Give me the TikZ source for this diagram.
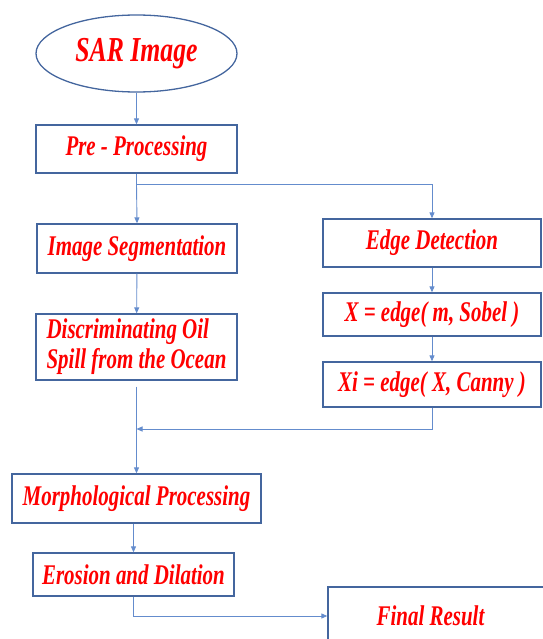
\documentclass[tikz,border=0pt]{standalone}
\usepackage{fontspec}
\newfontfamily\flowfont[FakeStretch=0.735]{Liberation Serif}
\usetikzlibrary{shapes.geometric,arrows.meta}
\definecolor{boxblue}{RGB}{68,102,158}
\definecolor{linkblue}{RGB}{100,140,205}
\definecolor{txtred}{RGB}{255,0,0}
\begin{document}
\begin{tikzpicture}[x=1pt,y=-1pt,
  boxstyle/.style={draw=boxblue,line width=1.3pt,rectangle,inner sep=0pt,text=txtred,
    font={\flowfont\bfseries\itshape\fontsize{28.5}{30}\selectfont}},
  link/.style={draw=linkblue,line width=0.9pt},
  arr/.style={link,-{Triangle[length=6pt,width=5pt]}}]
\useasboundingbox (0,0) rectangle (542,639);
\node[draw=boxblue,line width=1.3pt,ellipse,inner sep=0pt,minimum width=201pt,minimum height=77pt,
  text=txtred,font={\flowfont\bfseries\itshape\fontsize{35}{40}\selectfont}] (sar) at (136.5,53.5) {SAR Image};
\node[boxstyle,minimum width=201pt,minimum height=48pt] (pre) at (136.5,149) {Pre - Processing};
\node[boxstyle,minimum width=200pt,minimum height=49pt] (seg) at (137,248.5) {Image Segmentation};
\node[boxstyle,minimum width=218pt,minimum height=48pt] (edge) at (432,243) {\raisebox{-4pt}{Edge Detection}};
\node[boxstyle,minimum width=201pt,minimum height=66pt,align=left] (disc) at (136.5,347) {Discriminating Oil\\Spill from the Ocean};
\node[boxstyle,minimum width=218pt,minimum height=43pt] (xs) at (432,314.5) {X = edge( m, Sobel )};
\node[boxstyle,minimum width=218pt,minimum height=45pt] (xc) at (432,384.5) {Xi = edge( X, Canny )};
\node[boxstyle,minimum width=249pt,minimum height=49pt] (morph) at (136.5,498.5) {Morphological Processing};
\node[boxstyle,minimum width=201pt,minimum height=43pt] (eros) at (133.5,574.5) {Erosion and Dilation};
\node[boxstyle,minimum width=217pt,minimum height=58pt] (final) at (436.5,616) {Final Result\hspace*{12pt}};
\coordinate (split) at (136.5,184);
\coordinate (join) at (136.5,429);
\draw[arr] (sar) -- (pre);
\draw[link] (pre.south) -- (split);
\draw[arr] (split) -- (seg.north);
\draw[arr] (split) -| (edge.north);
\draw[arr] (seg) -- (disc);
\draw[arr] (edge) -- (xs);
\draw[arr] (xs) -- (xc);
\draw[arr] (xc.south) |- (join);
\draw[arr,shorten <=6pt] (disc.south) -- (morph.north);
\draw[arr] (eros.north |- morph.south) -- (eros.north);
\draw[arr] (eros.south) |- (final.west);
\end{tikzpicture}
\end{document}
